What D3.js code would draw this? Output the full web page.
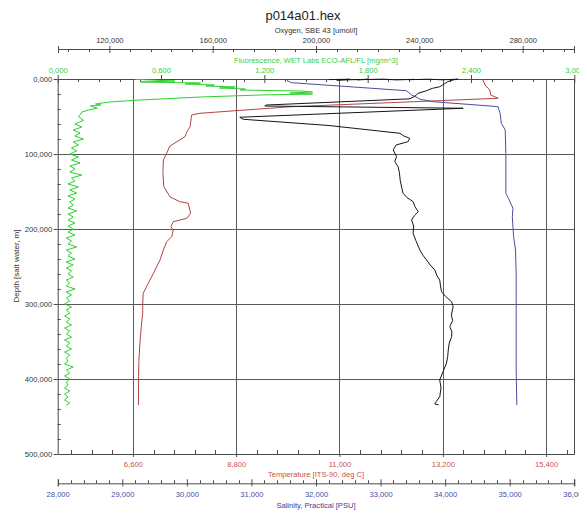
<!DOCTYPE html>
<html><head><meta charset="utf-8">
<script src="https://cdn.jsdelivr.net/npm/d3@7"></script>
<style>
html,body{margin:0;padding:0;background:#fff;}
svg{display:block;font-family:"Liberation Sans",Arial,sans-serif;}
</style></head>
<body><svg id="chart" width="579" height="510"></svg>
<script>
// ---------- tick labels ----------
const depthTicks = [0, 100, 200, 300, 400, 500];
const oxygenTicks = [120, 160, 200, 240, 280];
const fluorTicks = [0, 0.6, 1.2, 1.8, 2.4, 3.0];
const tempTicks = [6.6, 8.8, 11.0, 13.2, 15.4];
const salTicks = [28, 29, 30, 31, 32, 33, 34, 35, 36];

// ---------- series (depth in m, value) ----------
const tempDepth = [0.4, 8, 14.7, 21.3, 25.7, 37, 45.7, 48, 63.6, 70.3, 77, 89.3, 99, 108, 125, 143.6, 157, 163.6, 165.7, 179, 185.7, 190.3, 197, 201.3, 210, 217, 228, 241, 259, 277, 285.7, 300, 312.4, 330, 352.4, 375, 397, 420, 434.7];
const tempVal   = [14.05, 14.10, 14.20, 14.22, 14.38, 9.95, 8.03, 7.85, 7.82, 7.75, 7.71, 7.39, 7.32, 7.25, 7.24, 7.26, 7.39, 7.60, 7.78, 7.83, 7.75, 7.46, 7.41, 7.46, 7.43, 7.32, 7.25, 7.18, 7.04, 6.89, 6.82, 6.81, 6.81, 6.78, 6.75, 6.73, 6.72, 6.72, 6.72];

const salDepth = [0.4, 2, 4.9, 15.6, 21.3, 24.4, 27, 30.3, 36, 37, 45.7, 59, 68, 99, 152.4, 159, 172.4, 183.6, 210, 228, 260, 299, 340, 388, 434.7];
const salVal   = [31.57, 31.55, 31.62, 33.40, 33.48, 33.56, 33.61, 33.82, 34.69, 34.82, 34.85, 34.87, 34.93, 34.94, 34.94, 34.98, 35.05, 35.04, 35.06, 35.09, 35.10, 35.10, 35.10, 35.10, 35.11];

const oxyDepth = [0.8, 0.3, 1.5, 0.4, 1.0, 0.2, 1.2, 0.5, 0.9, 0.3, 1.1, 0.2, 1.3, 3.6, 8, 10.3, 12.5, 15.6, 19, 21.3, 24.4, 26.5, 34.7, 36, 39, 51, 53.7, 62, 72.4, 76, 79, 83.6, 88, 94.7, 103.6, 110, 117, 125, 135, 145, 152.4, 158, 163.6, 170, 177, 182, 188, 196, 205.7, 215, 228, 235, 241.3, 248, 254.7, 262, 268, 276, 283.6, 290, 297, 303.6, 315, 322, 330, 337, 343.6, 352, 361.3, 370, 379, 390, 401.3, 412, 423.6, 430, 433.3, 434.5];
const oxyVal   = [205, 213, 208, 220, 216, 226, 231, 238, 236, 244, 249, 255, 253, 251, 249, 247.9, 245, 242.8, 239.5, 238.9, 237.6, 236, 180.8, 180.2, 257, 170.5, 171.8, 205, 232.5, 234, 236.3, 235.6, 231, 229.9, 231.2, 230.5, 231.8, 232.3, 232.6, 233.2, 233.7, 235.2, 237.6, 238.3, 239.6, 238.1, 237.0, 237.8, 237.6, 238.6, 240.2, 241.4, 242.8, 244.2, 246.0, 246.8, 247.9, 248.2, 248.6, 250.2, 252.5, 253.1, 252.4, 252.9, 251.8, 252.6, 252.5, 251.6, 251.2, 251.0, 250.5, 249.2, 247.9, 248.4, 247.9, 246.6, 246.0, 247.5];

const fluDepth = [0.5, 1.3, 2.7, 4, 5.3, 6.7, 8, 9.3, 10.7, 12, 13.3, 14.7, 16, 17.3, 18.7, 20, 21.3, 24, 28, 30.7, 33.3, 34.7, 36, 38.7, 41.3, 44, 48, 50, 55, 60, 64, 68, 72, 76, 80, 84, 88, 92, 96, 100, 104, 108, 112, 116, 120, 124, 128, 132, 136, 140, 144, 148, 152, 156, 160, 164, 168, 172, 176, 180, 184, 188, 192, 196, 200, 204, 208, 212, 216, 220, 224, 228, 232, 236, 240, 244, 248, 252, 256, 260, 264, 268, 272, 276, 280, 284, 288, 292, 296, 300, 304, 308, 312, 316, 320, 324, 328, 332, 336, 340, 344, 348, 352, 356, 360, 364, 368, 372, 376, 380, 384, 388, 392, 396, 400, 404, 408, 412, 416, 420, 424, 428, 432, 435];
const fluVal   = [0.45, 0.54, 0.68, 0.48, 0.83, 0.74, 0.91, 0.86, 1.03, 0.94, 1.09, 1.06, 1.41, 1.48, 1.35, 1.48, 1.18, 0.83, 0.48, 0.30, 0.22, 0.25, 0.19, 0.23, 0.18, 0.14, 0.13, 0.12, 0.15, 0.10, 0.14, 0.09, 0.13, 0.10, 0.15, 0.09, 0.12, 0.08, 0.11, 0.07, 0.12, 0.08, 0.13, 0.07, 0.10, 0.07, 0.14, 0.08, 0.10, 0.06, 0.12, 0.07, 0.11, 0.06, 0.10, 0.07, 0.09, 0.06, 0.11, 0.06, 0.09, 0.06, 0.10, 0.06, 0.09, 0.06, 0.10, 0.05, 0.08, 0.06, 0.11, 0.05, 0.08, 0.06, 0.10, 0.05, 0.09, 0.05, 0.08, 0.06, 0.09, 0.05, 0.07, 0.05, 0.10, 0.05, 0.08, 0.05, 0.07, 0.04, 0.08, 0.05, 0.07, 0.04, 0.07, 0.05, 0.08, 0.04, 0.07, 0.05, 0.08, 0.04, 0.07, 0.05, 0.08, 0.04, 0.07, 0.05, 0.06, 0.04, 0.09, 0.05, 0.07, 0.04, 0.07, 0.05, 0.06, 0.04, 0.07, 0.04, 0.06, 0.04, 0.07, 0.05];

// ---------- layout ----------
const L = 57.7, R = 574.3, T = 79, B = 454;
const svg = d3.select("#chart");
const axisColor = "#4a4a4a";
const fmt = d => d.toFixed(3).replace(".", ",");

const y  = d3.scaleLinear([0, 500], [T, B]);
const xO = d3.scaleLinear([100, 300], [L, R]);
const xF = d3.scaleLinear([0, 3], [L, R]);
const xT = d3.scaleLinear([5, 16], [L, R]);
const xS = d3.scaleLinear([28, 36], [L, R]);

function minorsOf(scale, majors, step) {
  const [a, b] = scale.domain();
  const base = majors[0];
  const out = [];
  const n0 = Math.ceil((a - base) / step - 1e-9), n1 = Math.floor((b - base) / step + 1e-9);
  for (let i = n0; i <= n1; i++) {
    const v = base + i * step;
    if (!majors.some(m => Math.abs(m - v) < 1e-6)) out.push(v);
  }
  return out;
}

// grid
const grid = svg.append("g").attr("stroke", "#5a5a5a").attr("stroke-width", 1);
grid.selectAll("line.v").data(tempTicks).join("line")
  .attr("x1", d => Math.round(xT(d)) + 0.5).attr("x2", d => Math.round(xT(d)) + 0.5)
  .attr("y1", T).attr("y2", B);
grid.selectAll("line.h").data(depthTicks.filter(d => d > 0 && d < 500)).join("line")
  .attr("y1", d => Math.round(y(d)) + 0.5).attr("y2", d => Math.round(y(d)) + 0.5)
  .attr("x1", L).attr("x2", R);
// right border
svg.append("line").attr("x1", Math.round(R) + 0.5).attr("x2", Math.round(R) + 0.5)
  .attr("y1", T).attr("y2", B).attr("stroke", axisColor);

// horizontal axis helper
function hAxis(yPos, scale, majors, step, cfg) {
  const g = svg.append("g").attr("transform", `translate(0,${yPos})`);
  const gen = (cfg.below ? d3.axisBottom : d3.axisTop)(scale)
    .tickValues(majors).tickFormat(fmt).tickSize(0).tickSizeOuter(0).tickPadding(cfg.pad);
  g.call(gen);
  g.select(".domain").attr("stroke", axisColor);
  g.selectAll(".tick text").attr("fill", cfg.color).style("font-size", "7.6px")
    .style("font-family", '"Liberation Sans",Arial,sans-serif');
  g.selectAll(".tick").append("line").attr("stroke", axisColor)
    .attr("y1", -cfg.majUp).attr("y2", cfg.majDown);
  const mins = minorsOf(scale, majors, step);
  g.selectAll("line.minor").data(mins).join("line").attr("class", "minor")
    .attr("x1", d => Math.round(scale(d)) + 0.5).attr("x2", d => Math.round(scale(d)) + 0.5)
    .attr("y1", -cfg.minUp).attr("y2", cfg.minDown).attr("stroke", axisColor);
  if (cfg.caps) {
    g.selectAll("line.cap").data(scale.range()).join("line").attr("class", "cap")
      .attr("x1", d => Math.round(d) + 0.5).attr("x2", d => Math.round(d) + 0.5)
      .attr("y1", -cfg.majUp).attr("y2", cfg.majDown).attr("stroke", axisColor);
  }
  return g;
}

// oxygen (top, separate)
hAxis(49, xO, oxygenTicks, 8, {below: false, pad: 6, color: "#333", majUp: 3, majDown: 4, minUp: 0, minDown: 3, caps: true});
// fluorescence (plot top)
hAxis(T, xF, fluorTicks, 0.12, {below: false, pad: 6, color: "#3ccc3c", majUp: 4, majDown: 4, minUp: 0, minDown: 3, caps: false});
// temperature (plot bottom)
hAxis(B, xT, tempTicks, 0.44, {below: true, pad: 7.5, color: "#c85050", majUp: 0, majDown: 3, minUp: 4, minDown: 0, caps: false});
// salinity (separate bottom)
hAxis(483.3, xS, salTicks, 0.2, {below: true, pad: 8.5, color: "#4a4aa8", majUp: 4, majDown: 3, minUp: 3, minDown: 0, caps: true});

// depth axis (left)
const gD = svg.append("g").attr("transform", `translate(${L},0)`);
gD.call(d3.axisLeft(y).tickValues(depthTicks).tickFormat(fmt).tickSize(4).tickSizeOuter(0).tickPadding(1.5));
gD.select(".domain").attr("stroke", axisColor);
gD.selectAll(".tick line").attr("stroke", axisColor);
gD.selectAll(".tick text").attr("fill", "#333").style("font-size", "7.6px")
  .style("font-family", '"Liberation Sans",Arial,sans-serif');
gD.selectAll("line.minor").data(minorsOf(y, depthTicks, 20)).join("line").attr("class", "minor")
  .attr("y1", d => Math.round(y(d)) + 0.5).attr("y2", d => Math.round(y(d)) + 0.5)
  .attr("x1", 0).attr("x2", 3).attr("stroke", axisColor);

// titles
const tf = '"Liberation Sans",Arial,sans-serif';
svg.append("text").attr("x", 303).attr("y", 20).attr("text-anchor", "middle")
  .style("font-size", "13px").style("font-family", tf).attr("fill", "#222").text("p014a01.hex");
svg.append("text").attr("x", 316).attr("y", 32.5).attr("text-anchor", "middle")
  .style("font-size", "7.6px").style("font-family", tf).attr("fill", "#333").text("Oxygen, SBE 43 [umol/l]");
svg.append("text").attr("x", 316).attr("y", 63).attr("text-anchor", "middle")
  .style("font-size", "7.6px").style("font-family", tf).attr("fill", "#3ccc3c").text("Fluorescence, WET Labs ECO-AFL/FL [mg/m^3]");
svg.append("text").attr("x", 316).attr("y", 477).attr("text-anchor", "middle")
  .style("font-size", "7.6px").style("font-family", tf).attr("fill", "#c85050").text("Temperature [ITS-90, deg C]");
svg.append("text").attr("x", 316).attr("y", 508).attr("text-anchor", "middle")
  .style("font-size", "7.6px").style("font-family", tf).attr("fill", "#3a3a98").text("Salinity, Practical [PSU]");
svg.append("text").attr("transform", "translate(19,266) rotate(-90)").attr("text-anchor", "middle")
  .style("font-size", "8px").style("font-family", tf).attr("fill", "#333").text("Depth [salt water, m]");

// traces
function trace(depths, vals, xs, color, w) {
  const pts = depths.map((d, i) => [d, vals[i]]);
  svg.append("path").datum(pts)
    .attr("fill", "none").attr("stroke", color).attr("stroke-width", w)
    .attr("stroke-linejoin", "round")
    .attr("d", d3.line().x(p => xs(p[1])).y(p => y(p[0])));
}
trace(tempDepth, tempVal, xT, "#b04545", 1);
trace(salDepth, salVal, xS, "#4d4d9e", 1);
trace(oxyDepth, oxyVal, xO, "#151515", 1);
trace(fluDepth, fluVal, xF, "#2ed12e", 1);
</script></body></html>
